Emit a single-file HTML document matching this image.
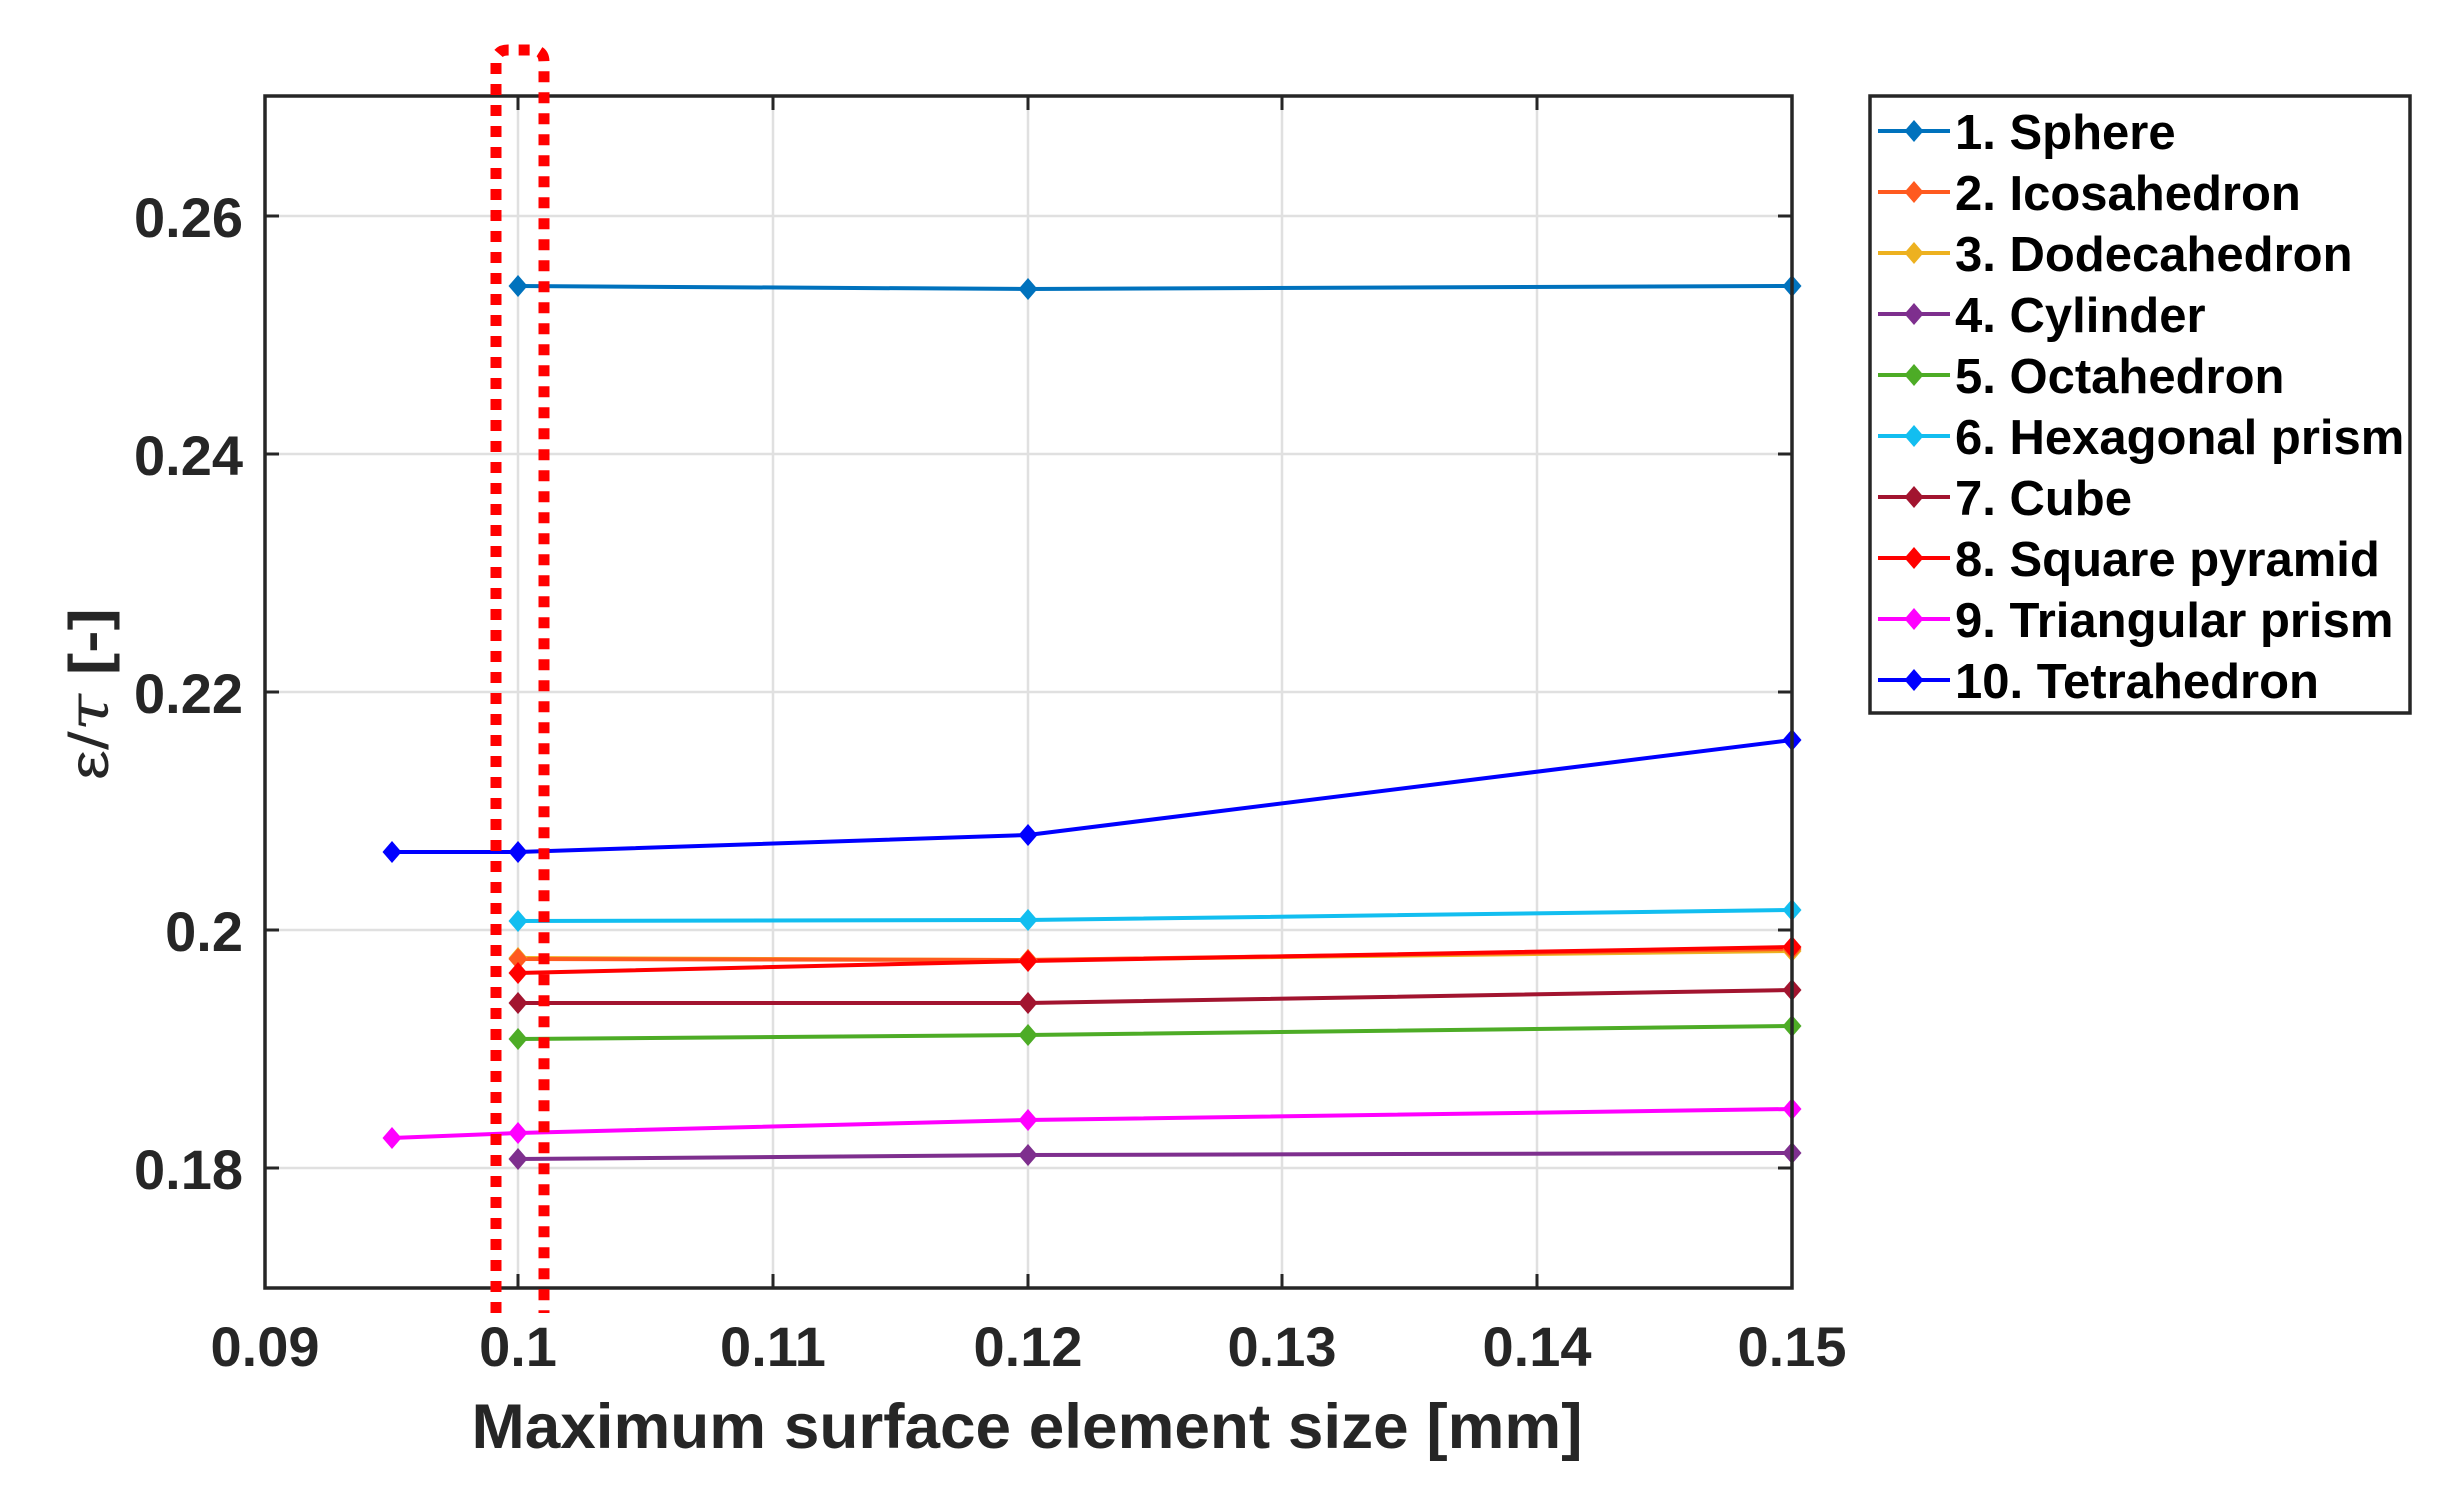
<!DOCTYPE html>
<html><head><meta charset="utf-8"><style>html,body{margin:0;padding:0;background:#fff}svg{display:block}</style></head>
<body>
<svg width="2464" height="1511" viewBox="0 0 2464 1511" xmlns="http://www.w3.org/2000/svg" font-family="Liberation Sans, Arial, sans-serif">
<rect width="2464" height="1511" fill="#fff"/>
<g stroke="#e0e0e0" stroke-width="2.5">
<line x1="518" y1="96" x2="518" y2="1288"/>
<line x1="773" y1="96" x2="773" y2="1288"/>
<line x1="1028" y1="96" x2="1028" y2="1288"/>
<line x1="1282" y1="96" x2="1282" y2="1288"/>
<line x1="1537" y1="96" x2="1537" y2="1288"/>
<line x1="265" y1="216" x2="1792" y2="216"/>
<line x1="265" y1="454" x2="1792" y2="454"/>
<line x1="265" y1="692" x2="1792" y2="692"/>
<line x1="265" y1="930" x2="1792" y2="930"/>
<line x1="265" y1="1168" x2="1792" y2="1168"/>
</g>
<g stroke="#262626" stroke-width="3">
<path d="M518 1288v-14M773 1288v-14M1028 1288v-14M1282 1288v-14M1537 1288v-14M518 96v14M773 96v14M1028 96v14M1282 96v14M1537 96v14"/>
<path d="M265 216h14M265 454h14M265 692h14M265 930h14M265 1168h14M1792 216h-14M1792 454h-14M1792 692h-14M1792 930h-14M1792 1168h-14"/>
</g>
<defs><path id="d" d="M0 -11 L9.5 0 L0 11 L-9.5 0 Z"/></defs>
<g fill="none" stroke-width="4">
<polyline stroke="#0072BD" points="518,286 1028,289 1792,286"/>
<polyline stroke="#EDB120" points="518,958 1028,960 1792,951"/>
<polyline stroke="#FF5A1F" points="518,959 1028,960 1792,949"/>
<polyline stroke="#7E2F8E" points="518,1159 1028,1155 1792,1153"/>
<polyline stroke="#4DAC26" points="518,1039 1028,1035 1792,1026"/>
<polyline stroke="#12BEF0" points="518,921 1028,920 1792,910"/>
<polyline stroke="#A2142F" points="518,1003 1028,1003 1792,990"/>
<polyline stroke="#FF0000" points="518,973 1028,961 1792,947"/>
<polyline stroke="#FF00FF" points="392,1138 518,1133 1028,1120 1792,1109"/>
<polyline stroke="#0000FF" points="392,852 518,852 1028,835 1792,740"/>
</g>
<g fill="#0072BD"><use href="#d" x="518" y="286"/><use href="#d" x="1028" y="289"/><use href="#d" x="1792" y="286"/></g>
<g fill="#EDB120"><use href="#d" x="518" y="958"/><use href="#d" x="1028" y="960"/><use href="#d" x="1792" y="951"/></g>
<g fill="#FF5A1F"><use href="#d" x="518" y="959"/><use href="#d" x="1028" y="960"/><use href="#d" x="1792" y="949"/></g>
<g fill="#7E2F8E"><use href="#d" x="518" y="1159"/><use href="#d" x="1028" y="1155"/><use href="#d" x="1792" y="1153"/></g>
<g fill="#4DAC26"><use href="#d" x="518" y="1039"/><use href="#d" x="1028" y="1035"/><use href="#d" x="1792" y="1026"/></g>
<g fill="#12BEF0"><use href="#d" x="518" y="921"/><use href="#d" x="1028" y="920"/><use href="#d" x="1792" y="910"/></g>
<g fill="#A2142F"><use href="#d" x="518" y="1003"/><use href="#d" x="1028" y="1003"/><use href="#d" x="1792" y="990"/></g>
<g fill="#FF0000"><use href="#d" x="518" y="973"/><use href="#d" x="1028" y="961"/><use href="#d" x="1792" y="947"/></g>
<g fill="#FF00FF"><use href="#d" x="392" y="1138"/><use href="#d" x="518" y="1133"/><use href="#d" x="1028" y="1120"/><use href="#d" x="1792" y="1109"/></g>
<g fill="#0000FF"><use href="#d" x="392" y="852"/><use href="#d" x="518" y="852"/><use href="#d" x="1028" y="835"/><use href="#d" x="1792" y="740"/></g>
<rect x="265" y="96" width="1527" height="1192" fill="none" stroke="#262626" stroke-width="3.5"/>
<path d="M496 1313 V62 Q496 50 508 50 H532 Q544 50 544 62 V1313" fill="none" stroke="#FF0000" stroke-width="11" stroke-dasharray="11 10"/>
<g font-size="56" font-weight="bold" fill="#262626" text-anchor="middle">
<text x="265" y="1366">0.09</text>
<text x="518" y="1366">0.1</text>
<text x="773" y="1366">0.11</text>
<text x="1028" y="1366">0.12</text>
<text x="1282" y="1366">0.13</text>
<text x="1537" y="1366">0.14</text>
<text x="1792" y="1366">0.15</text>
</g>
<g font-size="56" font-weight="bold" fill="#262626" text-anchor="end">
<text x="243" y="237">0.26</text>
<text x="243" y="475">0.24</text>
<text x="243" y="713">0.22</text>
<text x="243" y="951">0.2</text>
<text x="243" y="1189">0.18</text>
</g>
<text x="1027" y="1448" font-size="63" font-weight="bold" fill="#262626" text-anchor="middle" textLength="1111" lengthAdjust="spacingAndGlyphs">Maximum surface element size [mm]</text>
<text transform="translate(108,694) rotate(-90)" font-size="56" fill="#262626" text-anchor="middle" textLength="172" lengthAdjust="spacingAndGlyphs">ε/<tspan font-style="italic" font-family="DejaVu Serif, serif">τ</tspan> <tspan font-weight="bold">[-]</tspan></text>
<rect x="1870" y="96" width="540" height="617" fill="#fff" stroke="#262626" stroke-width="3.5"/>
<g stroke-width="4">
<line x1="1878" x2="1950" y1="131" y2="131" stroke="#0072BD"/>
<line x1="1878" x2="1950" y1="192" y2="192" stroke="#FF5A1F"/>
<line x1="1878" x2="1950" y1="253" y2="253" stroke="#EDB120"/>
<line x1="1878" x2="1950" y1="314" y2="314" stroke="#7E2F8E"/>
<line x1="1878" x2="1950" y1="375" y2="375" stroke="#4DAC26"/>
<line x1="1878" x2="1950" y1="436" y2="436" stroke="#12BEF0"/>
<line x1="1878" x2="1950" y1="497" y2="497" stroke="#A2142F"/>
<line x1="1878" x2="1950" y1="558" y2="558" stroke="#FF0000"/>
<line x1="1878" x2="1950" y1="619" y2="619" stroke="#FF00FF"/>
<line x1="1878" x2="1950" y1="680" y2="680" stroke="#0000FF"/>
</g>
<use href="#d" x="1914" y="131" fill="#0072BD"/>
<use href="#d" x="1914" y="192" fill="#FF5A1F"/>
<use href="#d" x="1914" y="253" fill="#EDB120"/>
<use href="#d" x="1914" y="314" fill="#7E2F8E"/>
<use href="#d" x="1914" y="375" fill="#4DAC26"/>
<use href="#d" x="1914" y="436" fill="#12BEF0"/>
<use href="#d" x="1914" y="497" fill="#A2142F"/>
<use href="#d" x="1914" y="558" fill="#FF0000"/>
<use href="#d" x="1914" y="619" fill="#FF00FF"/>
<use href="#d" x="1914" y="680" fill="#0000FF"/>
<g font-size="49" font-weight="bold" fill="#000">
<text x="1955" y="149">1. Sphere</text>
<text x="1955" y="210">2. Icosahedron</text>
<text x="1955" y="271">3. Dodecahedron</text>
<text x="1955" y="332">4. Cylinder</text>
<text x="1955" y="393">5. Octahedron</text>
<text x="1955" y="454">6. Hexagonal prism</text>
<text x="1955" y="515">7. Cube</text>
<text x="1955" y="576">8. Square pyramid</text>
<text x="1955" y="637">9. Triangular prism</text>
<text x="1955" y="698">10. Tetrahedron</text>
</g>
</svg>
</body></html>
